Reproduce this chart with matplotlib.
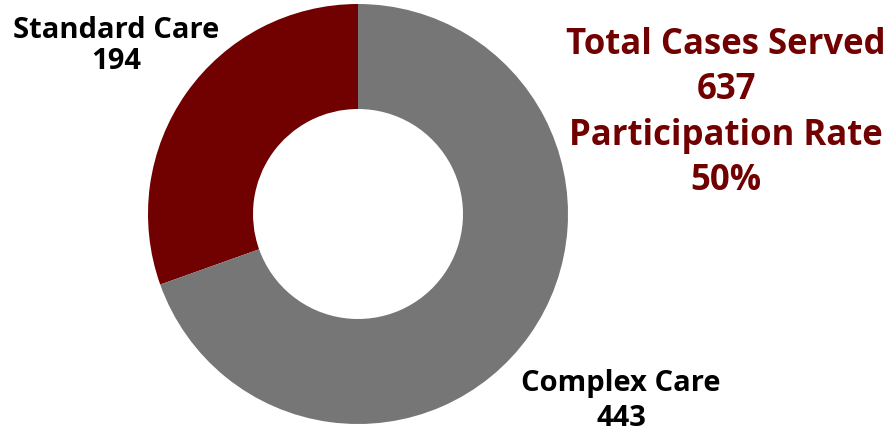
import matplotlib.pyplot as plt

labels = ["Standard Care", "Complex Care"]
cases = [194, 443]
total_cases = 637
participation = "50%"

DARK_RED = "#710000"
GREY = "#767676"

plt.rcParams["font.family"] = ["Open Sans", "DejaVu Sans"]

fig = plt.figure(figsize=(8.91, 4.35), dpi=100)
ax = fig.add_axes([148 / 891, 10 / 435, 420 / 891, 420 / 435])
ax.pie(cases, colors=[DARK_RED, GREY], startangle=90, counterclock=True,
       radius=1.0, wedgeprops=dict(width=0.5, linewidth=0))
ax.set_xlim(-1, 1)
ax.set_ylim(-1, 1)
ax.set_aspect("equal")
ax.axis("off")

fig.text(116 / 891, 1 - 46 / 435, f"{labels[0]}\n{cases[0]}", ha="center", va="center",
         fontsize=21, fontweight="bold", color="black", linespacing=1.1)
fig.text(621 / 891, 1 - 401 / 435, f"{labels[1]}\n{cases[1]}", ha="center", va="center",
         fontsize=21, fontweight="bold", color="black", linespacing=1.25)
fig.text(726 / 891, 1 - 113 / 435,
         f"Total Cases Served\n{total_cases}\nParticipation Rate\n{participation}",
         ha="center", va="center", fontsize=25, fontweight="bold", color=DARK_RED,
         linespacing=1.35)

fig.savefig("out.png", dpi=100)
